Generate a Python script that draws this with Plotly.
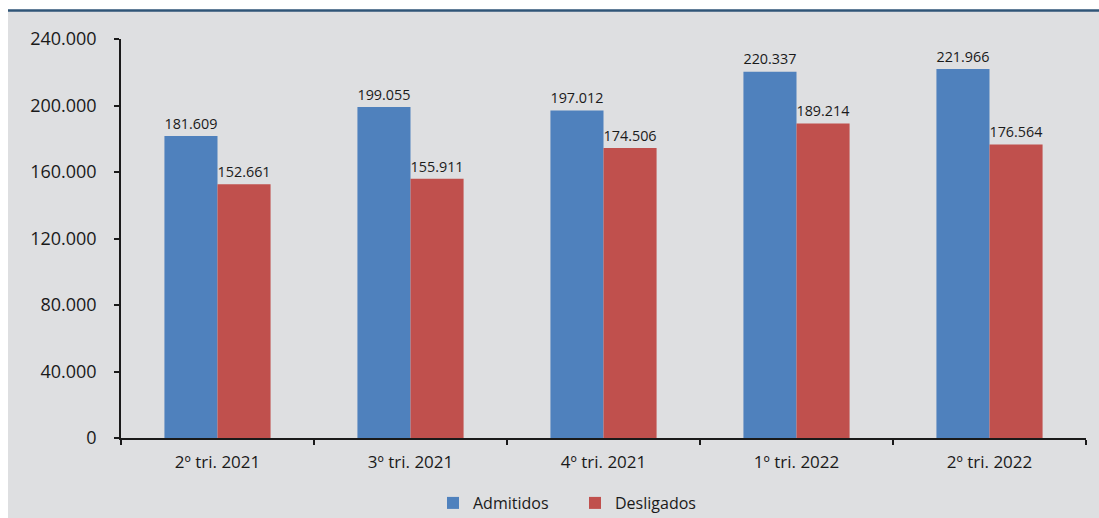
import plotly.graph_objects as go

# Quarterly admissions vs. separations
trimestres = ["2º tri. 2021", "3º tri. 2021", "4º tri. 2021", "1º tri. 2022", "2º tri. 2022"]
admitidos = [181609, 199055, 197012, 220337, 221966]
desligados = [152661, 155911, 174506, 189214, 176564]
y_ticks = [0, 40000, 80000, 120000, 160000, 200000, 240000]

W, H = 1099, 518
FONT = "Open Sans"


def fmt(v):
    return f"{v:,}".replace(",", ".")


fig = go.Figure()
fig.add_trace(go.Bar(
    name="Admitidos", x=trimestres, y=admitidos,
    marker=dict(color="#4f81bd", line=dict(width=0)),
    text=[fmt(v) for v in admitidos], textposition="outside",
    textfont=dict(size=17, color="#1a1a1a", family=FONT),
    cliponaxis=False,
))
fig.add_trace(go.Bar(
    name="Desligados", x=trimestres, y=desligados,
    marker=dict(color="#c0504d", line=dict(width=0)),
    text=[fmt(v) for v in desligados], textposition="outside",
    textfont=dict(size=17, color="#1a1a1a", family=FONT),
    cliponaxis=False,
))

# gray panel and the dark rule along its top edge
fig.add_shape(type="rect", xref="paper", yref="paper",
              x0=8 / W, x1=1, y0=0, y1=(H - 11) / H,
              fillcolor="#dedfe1", line=dict(width=0), layer="below")
fig.add_shape(type="line", xref="paper", yref="paper",
              x0=8 / W, x1=1, y0=(H - 10.5) / H, y1=(H - 10.5) / H,
              line=dict(color="#2f5577", width=2.5), layer="below")

fig.update_layout(
    width=W, height=H,
    margin=dict(l=0, r=0, t=0, b=0, autoexpand=False),
    paper_bgcolor="white", plot_bgcolor="rgba(0,0,0,0)",
    separators=",.",
    barmode="group", bargap=0.45, bargroupgap=0,
    font=dict(family=FONT, color="#1a1a1a"),
    showlegend=True,
    legend=dict(orientation="h", x=433 / W, xanchor="left",
                y=(H - 503) / H, yanchor="middle",
                entrywidth=97, entrywidthmode="pixels",
                font=dict(size=16, family=FONT, color="#1a1a1a"),
                bgcolor="rgba(0,0,0,0)", traceorder="normal"),
    xaxis=dict(domain=[121 / W, 1086 / W], showline=True, linecolor="#1a1a1a",
               linewidth=1.5, ticks="outside", tickson="boundaries", ticklen=5,
               tickcolor="#1a1a1a", tickwidth=1.5,
               tickfont=dict(size=17, family=FONT, color="#1a1a1a"),
               ticklabelstandoff=8, showgrid=False, automargin=False),
    yaxis=dict(domain=[80 / H, 479 / H], range=[0, 240000], tickvals=y_ticks,
               ticktext=[fmt(v) for v in y_ticks],
               showline=True, linecolor="#1a1a1a", linewidth=1.5,
               ticks="outside", ticklen=5, tickcolor="#1a1a1a", tickwidth=1.5,
               tickfont=dict(size=18, family=FONT, color="#1a1a1a"),
               ticklabelstandoff=14, showgrid=False, zeroline=False,
               automargin=False),
)

fig.write_html("out.html")
